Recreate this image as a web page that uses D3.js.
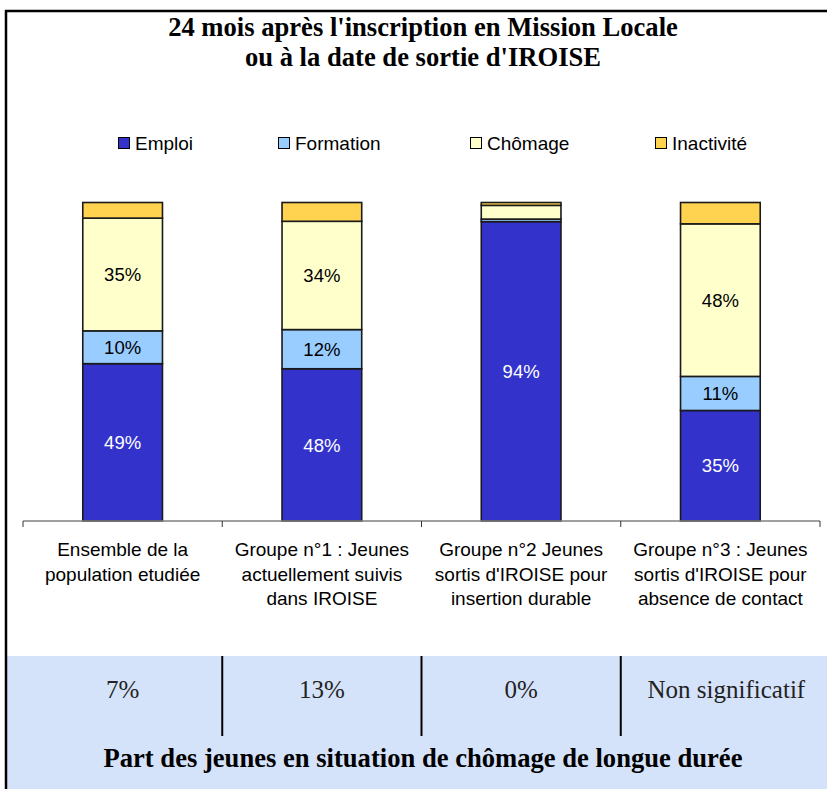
<!DOCTYPE html>
<html>
<head>
<meta charset="utf-8">
<script src="https://cdn.jsdelivr.net/npm/d3@7"></script>
<style>
  body { margin: 0; background: #fff; }
  svg { display: block; }
</style>
</head>
<body>
<svg id="chart" width="827" height="789"></svg>
<script>
'use strict';

// data (percent of each group)
var categories = ['g0', 'g1', 'g2', 'g3'];
var categoryLines = [
    ['Ensemble de la', 'population etudiée'],
    ['Groupe n°1 : Jeunes', 'actuellement suivis', 'dans IROISE'],
    ['Groupe n°2 Jeunes', "sortis d'IROISE pour", 'insertion durable'],
    ['Groupe n°3 : Jeunes', "sortis d'IROISE pour", 'absence de contact']
];
var series = ['Emploi', 'Formation', 'Chômage', 'Inactivité'];
var emploi = [49.4, 47.8, 94.0, 34.7];
var formation = [10.3, 12.3, 0.8, 10.7];
var chomage = [35.4, 34.0, 4.3, 47.9];
var inactivite = [4.9, 5.9, 0.9, 6.7];
var longTermShare = ['7%', '13%', '0%', 'Non significatif'];

var colors = {
    'Emploi': '#3333cc',
    'Formation': '#99ccff',
    'Chômage': '#ffffcc',
    'Inactivité': '#ffd24f'
};

var rows = categories.map(function(c, i) {
    return {
        cat: c,
        'Emploi': emploi[i],
        'Formation': formation[i],
        'Chômage': chomage[i],
        'Inactivité': inactivite[i]
    };
});

var svg = d3.select('#chart');

var axisLeft = 23,
    axisRight = 820,
    axisY = 521,
    barTop = 202.5;

var x = d3.scaleBand()
    .domain(categories)
    .range([axisLeft, axisRight])
    .paddingInner(0.6)
    .paddingOuter(0.3);

var y = d3.scaleLinear()
    .domain([0, 1])
    .range([axisY, barTop]);

var stacked = d3.stack()
    .keys(series)
    .offset(d3.stackOffsetExpand)(rows);

var sans = "'Liberation Sans', Arial, sans-serif",
    serif = "'Liberation Serif', 'Times New Roman', serif";

// title
svg.append('text')
    .attr('x', 423)
    .attr('font-family', serif)
    .attr('font-weight', 'bold')
    .attr('font-size', 26.6)
    .attr('text-anchor', 'middle')
    .selectAll('tspan')
    .data(["24 mois après l'inscription en Mission Locale", "ou à la date de sortie d'IROISE"])
    .enter().append('tspan')
    .attr('x', 423)
    .attr('y', function(d, i) { return 36 + i * 30; })
    .text(function(d) { return d; });

// legend
var legendX = [118, 278, 470, 655];
var legend = svg.append('g').selectAll('g')
    .data(series)
    .enter().append('g')
    .attr('transform', function(d, i) { return 'translate(' + legendX[i] + ',143)'; });

legend.append('rect')
    .attr('x', 0.5)
    .attr('y', -5.5)
    .attr('width', 11)
    .attr('height', 11)
    .attr('fill', function(d) { return colors[d]; })
    .attr('stroke', '#000')
    .attr('stroke-width', 1);

legend.append('text')
    .attr('x', 17)
    .attr('y', 7)
    .attr('font-family', sans)
    .attr('font-size', 19)
    .attr('fill', '#000')
    .text(function(d) { return d; });

// stacked bars
var layers = svg.append('g').selectAll('g.layer')
    .data(stacked)
    .enter().append('g')
    .attr('class', 'layer')
    .attr('fill', function(d) { return colors[d.key]; });

layers.selectAll('rect')
    .data(function(d) { return d; })
    .enter().append('rect')
    .attr('x', function(d) { return x(d.data.cat); })
    .attr('y', function(d) { return y(d[1]); })
    .attr('width', x.bandwidth())
    .attr('height', function(d) { return y(d[0]) - y(d[1]); })
    .attr('stroke', '#1a1a1a')
    .attr('stroke-width', 1.6);

// value labels inside segments
layers.each(function(layer) {
    if(layer.key === 'Inactivité') return;
    d3.select(this).selectAll('text')
        .data(layer.filter(function(d) { return d.data[layer.key] >= 5; }))
        .enter().append('text')
        .attr('x', function(d) { return x(d.data.cat) + x.bandwidth() / 2; })
        .attr('y', function(d) { return (y(d[0]) + y(d[1])) / 2; })
        .attr('dy', '0.36em')
        .attr('text-anchor', 'middle')
        .attr('font-family', sans)
        .attr('font-size', 18.5)
        .attr('fill', layer.key === 'Emploi' ? '#fff' : '#000')
        .text(function(d) { return Math.round(d.data[layer.key]) + '%'; });
});

// category axis with ticks between groups
var step = x.step(),
    bounds = d3.range(categories.length + 1).map(function(i) { return axisLeft + i * step; });

var axis = svg.append('g');
axis.append('line')
    .attr('x1', axisLeft)
    .attr('x2', axisRight)
    .attr('y1', axisY)
    .attr('y2', axisY)
    .attr('stroke', '#808080')
    .attr('stroke-width', 1.5);

axis.selectAll('line.tick')
    .data(bounds)
    .enter().append('line')
    .attr('class', 'tick')
    .attr('x1', function(d) { return d; })
    .attr('x2', function(d) { return d; })
    .attr('y1', axisY)
    .attr('y2', axisY + 6)
    .attr('stroke', '#333')
    .attr('stroke-width', 1);

axis.selectAll('text')
    .data(categories)
    .enter().append('text')
    .attr('text-anchor', 'middle')
    .attr('font-family', sans)
    .attr('font-size', 19)
    .attr('fill', '#000')
    .each(function(c, i) {
        var t = d3.select(this),
            cx = x(c) + x.bandwidth() / 2;
        categoryLines[i].forEach(function(line, j) {
            t.append('tspan')
                .attr('x', cx)
                .attr('y', 556 + j * 24.5)
                .text(line);
        });
    });

// long-term unemployment panel
var panelTop = 656;
svg.append('rect')
    .attr('x', 6)
    .attr('y', panelTop)
    .attr('width', 821)
    .attr('height', 789 - panelTop)
    .attr('fill', '#d5e3fa');

svg.append('g').selectAll('line')
    .data(bounds.slice(1, categories.length))
    .enter().append('line')
    .attr('x1', function(d) { return d; })
    .attr('x2', function(d) { return d; })
    .attr('y1', panelTop)
    .attr('y2', 736)
    .attr('stroke', '#000')
    .attr('stroke-width', 2);

svg.append('g').selectAll('text')
    .data(longTermShare)
    .enter().append('text')
    .attr('x', function(d, i) { return x(categories[i]) + x.bandwidth() / 2 + (i === 3 ? 6 : 0); })
    .attr('y', 698)
    .attr('text-anchor', 'middle')
    .attr('font-family', serif)
    .attr('font-size', 25)
    .attr('fill', '#222')
    .text(function(d) { return d; });

svg.append('text')
    .attr('x', 423)
    .attr('y', 767)
    .attr('text-anchor', 'middle')
    .attr('font-family', serif)
    .attr('font-weight', 'bold')
    .attr('font-size', 26.6)
    .attr('fill', '#000')
    .text('Part des jeunes en situation de chômage de longue durée');

// frame: top and left edges only
svg.append('line')
    .attr('x1', 5).attr('x2', 827)
    .attr('y1', 11).attr('y2', 11)
    .attr('stroke', '#000').attr('stroke-width', 2.5);
svg.append('line')
    .attr('x1', 6).attr('x2', 6)
    .attr('y1', 10).attr('y2', 789)
    .attr('stroke', '#000').attr('stroke-width', 2.5);
</script>
</body>
</html>
